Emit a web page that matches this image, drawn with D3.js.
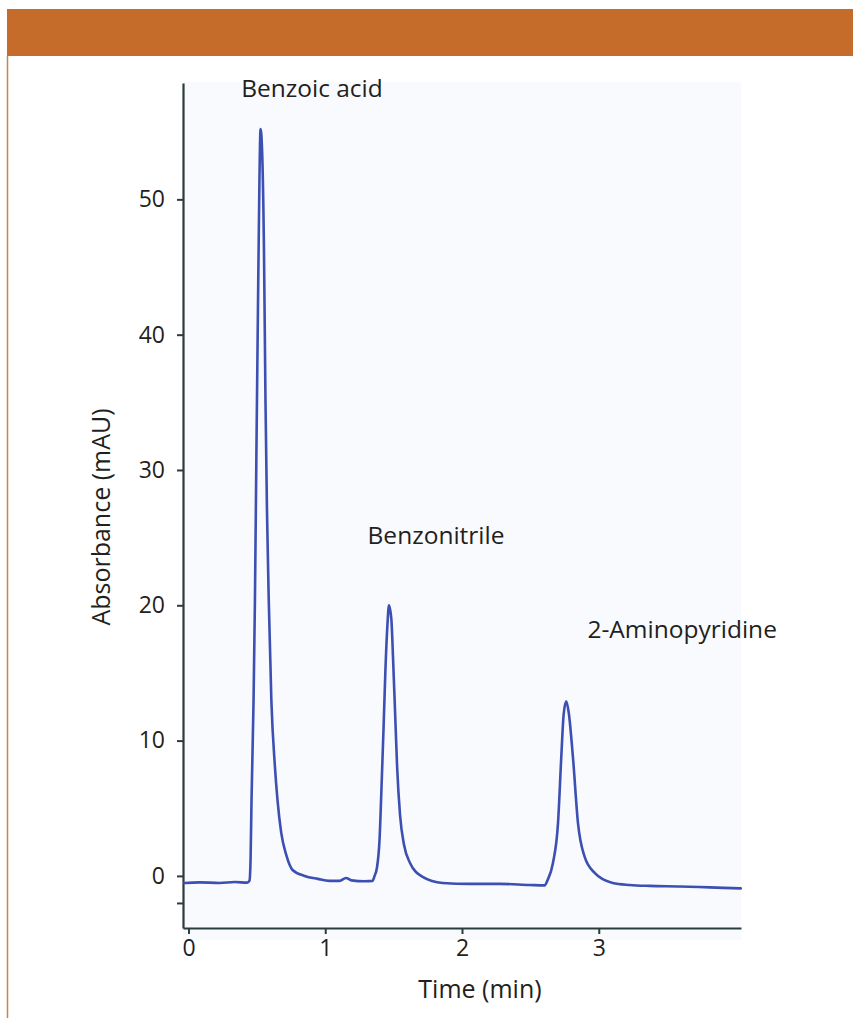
<!DOCTYPE html>
<html>
<head>
<meta charset="utf-8">
<script src="https://cdn.jsdelivr.net/npm/d3@7/dist/d3.min.js"></script>
<style>
  html, body { margin: 0; padding: 0; background: #fff; }
  svg { display: block; }
  text { font-family: "Open Sans", "Noto Sans", sans-serif; fill: #231f20; }
</style>
</head>
<body>
<svg id="chart" width="853" height="1018"></svg>
<script>
// Chromatogram trace: time (min)
const times = [-0.03, 0.08, 0.227, 0.34, 0.43, 0.446, 0.454, 0.461, 0.476, 0.486, 0.497, 0.508, 0.519, 0.527,
  0.538, 0.552, 0.563, 0.574, 0.587, 0.606, 0.632, 0.651, 0.678, 0.715, 0.761, 0.849, 0.944, 1.031, 1.105, 1.152, 1.192,
  1.287, 1.346, 1.361, 1.378, 1.397, 1.411, 1.426, 1.44, 1.455, 1.466, 1.484, 1.495, 1.51, 1.525, 1.547, 1.576, 1.62, 1.712,
  1.858, 2.056, 2.275, 2.495, 2.604, 2.626, 2.665, 2.702, 2.726, 2.743, 2.762, 2.78, 2.811, 2.848, 2.897, 2.97,
  3.102, 3.226, 3.372, 3.592, 3.811, 4.038];
// Absorbance (mAU)
const absorbance = [-0.52, -0.48, -0.52, -0.45, -0.5, -0.35, 1.2, 5.6, 13.0, 20.4, 31.5, 41.9, 51.5, 55.2,
  53.7, 46.3, 35.2, 27.0, 20.4, 13.0, 8.1, 5.6, 3.2, 1.55, 0.44, 0.0, -0.22, -0.37, -0.37, -0.15, -0.33,
  -0.4, -0.37, 0.0, 0.6, 2.66, 6.4, 10.8, 15.2, 18.6, 20.0, 18.9, 16.3, 12.3, 8.2, 4.5, 2.3, 0.96, -0.07,
  -0.52, -0.59, -0.59, -0.67, -0.7, -0.3, 0.96, 3.9, 8.8, 11.9, 12.9, 12.1, 8.8, 3.9, 1.4, 0.22,
  -0.52, -0.67, -0.74, -0.78, -0.85, -0.92];

const peakNames = ["Benzoic acid", "Benzonitrile", "2-Aminopyridine"];
const peakLabelTime = [0.903, 1.81, 3.61];
const peakLabelValue = [57.6, 24.5, 17.6];

const xTicks = [0, 1, 2, 3];
const yTicks = [0, 10, 20, 30, 40, 50];
const yMinorTicks = [-2];
const xTitle = "Time (min)";
const yTitle = "Absorbance (mAU)";

const svg = d3.select("#chart");

// header bar and left rule
svg.append("rect").attr("x", 7).attr("y", 9).attr("width", 846).attr("height", 47).attr("fill", "#c56c2b");
svg.append("line").attr("x1", 7.5).attr("x2", 7.5).attr("y1", 56).attr("y2", 1018)
  .attr("stroke", "#c8844c").attr("stroke-width", 1.5);

const x = d3.scaleLinear().domain([-0.04, 4.04]).range([183, 741]);
const y = d3.scaleLinear().domain([-3.85, 58.6]).range([928, 83]);

// faint plot background
svg.append("rect").attr("x", 183).attr("y", 82).attr("width", 558).attr("height", 858).attr("fill", "#f9fafd");

const axisColor = "#2b3c3d";

const yAxis = svg.append("g").attr("transform", `translate(${x.range()[0]},0)`)
  .call(d3.axisLeft(y).tickValues(yTicks).tickSize(6).tickSizeOuter(0).tickPadding(12).tickFormat(d3.format("d")));
const yMinor = svg.append("g").attr("transform", `translate(${x.range()[0]},0)`)
  .call(d3.axisLeft(y).tickValues(yMinorTicks).tickSize(6).tickSizeOuter(0).tickFormat(""));
yMinor.select(".domain").remove();

const xAxis = svg.append("g").attr("transform", `translate(0,${y.range()[0]})`)
  .call(d3.axisBottom(x).tickValues(xTicks).tickSize(6).tickSizeOuter(0).tickPadding(6).tickFormat(d3.format("d")));

[yAxis, yMinor, xAxis].forEach(g => {
  g.selectAll(".domain").attr("stroke", axisColor).attr("stroke-width", 2.2);
  g.selectAll(".tick line").attr("stroke", axisColor).attr("stroke-width", 2);
  g.selectAll(".tick text").style("font-size", "23px").attr("fill", "#231f20")
    .style("font-family", "'Open Sans', 'Noto Sans', sans-serif");
});

// trace
const pts = times.map((t, i) => [t, absorbance[i]]);
const line = d3.line().x(d => x(d[0])).y(d => y(d[1])).curve(d3.curveMonotoneX);
svg.append("path").datum(pts).attr("d", line)
  .attr("fill", "none").attr("stroke", "#3c4fb2").attr("stroke-width", 2.6)
  .attr("stroke-linejoin", "round").attr("stroke-linecap", "round");

// peak labels
peakNames.forEach((n, i) => {
  svg.append("text").attr("x", x(peakLabelTime[i])).attr("y", y(peakLabelValue[i]))
    .attr("text-anchor", "middle").style("font-size", "24.5px").text(n);
});

// axis titles
svg.append("text").attr("x", 480).attr("y", 998).attr("text-anchor", "middle").style("font-size", "25px").text(xTitle);
svg.append("text").attr("transform", "translate(110,517) rotate(-90)").attr("text-anchor", "middle")
  .style("font-size", "25px").text(yTitle);
</script>
</body>
</html>
